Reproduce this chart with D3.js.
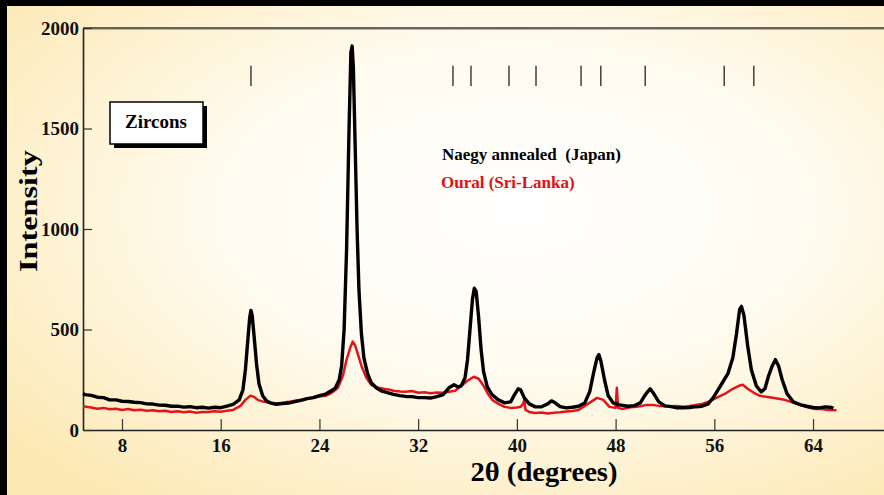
<!DOCTYPE html>
<html><head><meta charset="utf-8">
<script src="https://cdn.jsdelivr.net/npm/d3@7"></script>
<style>
html,body{margin:0;padding:0;background:#000;}
svg{display:block;}
text{font-family:"Liberation Serif","Times New Roman",serif;font-weight:bold;}
</style></head><body>
<svg id="chart" width="884" height="495"></svg>
<script>
// ---- data ----
const xTicks = [8, 16, 24, 32, 40, 48, 56, 64];
const yTicks = [0, 500, 1000, 1500, 2000];
const refLines = [18.45, 34.82, 36.28, 39.36, 41.55, 45.2, 46.8, 50.4, 56.8, 59.2];
const seriesNames = ["Naegy annealed  (Japan)", "Oural (Sri-Lanka)"];

const naegyTheta = [4.85,5.0,5.5,6.0,6.5,7.0,7.5,8.0,8.5,9.0,9.5,10,10.5,11,11.5,12,12.5,13,13.5,14,14.5,15,15.5,16,16.5,17,17.5,17.8,18.0,18.2,18.35,18.45,18.55,18.7,18.9,19.1,19.4,19.7,20,20.5,21,21.5,22,22.5,23,23.5,24,24.5,25,25.3,25.6,25.8,26.0,26.2,26.4,26.55,26.65,26.75,26.9,27.05,27.2,27.4,27.6,27.9,28.2,28.6,29,29.5,30,30.5,31,31.5,32,32.5,33,33.5,34,34.5,34.9,35.2,35.5,35.8,36.0,36.2,36.4,36.55,36.7,36.9,37.1,37.3,37.6,38,38.5,39,39.5,39.8,40.1,40.3,40.6,41,41.5,42,42.5,42.8,43.1,43.5,44,44.5,45,45.5,45.9,46.2,46.5,46.65,46.8,47.1,47.4,47.8,48.3,49,49.5,50,50.4,50.8,51.1,51.5,52,52.5,53,53.5,54,54.5,55,55.5,55.9,56.3,56.7,57.1,57.5,57.8,58.05,58.2,58.4,58.7,59.0,59.4,59.8,60.1,60.4,60.7,60.95,61.2,61.5,61.9,62.4,63,63.5,64,64.5,65,65.5,65.65];
const naegyI = [182,176,172,163,161,150,150,143,142,138,136,130,129,124,123,118,119,114,116,111,113,109,113,111,119,128,150,200,300,450,560,595,570,470,330,230,170,145,135,128,131,134,141,147,156,161,171,179,196,210,250,320,500,900,1500,1880,1910,1800,1400,1000,700,480,360,280,235,210,195,186,177,171,167,166,161,161,159,166,175,210,225,215,220,260,350,500,650,705,690,560,400,290,215,175,150,135,140,175,205,200,160,130,115,116,130,145,135,116,110,113,118,135,190,280,360,375,345,250,170,135,125,118,121,135,175,205,180,140,120,116,110,111,112,116,118,130,160,200,240,280,360,480,600,615,570,420,300,220,190,205,270,320,350,320,250,180,140,125,118,112,110,115,112,108];

const ouralTheta = [4.85,5.5,6,6.5,7,7.5,8,8.5,9,9.5,10,10.5,11,11.5,12,12.5,13,13.5,14,14.5,15,15.5,16,16.5,17,17.6,18.0,18.4,18.7,19.0,19.5,20,20.5,21,21.5,22,22.5,23,23.5,24,24.5,25,25.5,25.9,26.2,26.5,26.7,26.9,27.1,27.4,27.8,28.2,28.7,29.2,29.6,30,30.5,31,31.5,32,32.5,33,33.5,34,34.5,35,35.5,36,36.5,36.9,37.3,37.7,38,38.5,39,39.5,40,40.3,40.5,40.6,40.7,41,41.5,42,42.5,43,43.5,44,44.5,45,45.5,46,46.5,47,47.5,48.0,48.1,48.2,48.5,49,49.5,50,50.5,51,51.5,52,52.5,53,53.5,54,54.5,55,55.5,56,56.5,57,57.5,58,58.3,58.7,59.2,59.7,60.2,60.7,61.2,61.7,62.2,62.7,63.2,63.7,64.2,64.7,65.2,65.9];
const ouralI = [118,112,106,110,103,106,100,104,98,101,96,98,93,96,90,93,88,92,86,90,89,93,91,96,100,120,150,170,165,150,140,135,132,136,140,146,150,156,160,166,170,185,210,270,350,410,440,420,380,320,260,225,212,205,202,195,192,190,194,185,188,183,187,185,190,195,220,245,265,255,220,175,150,130,115,110,112,115,130,150,100,90,85,87,82,86,88,92,95,100,120,140,160,150,115,110,210,110,105,110,115,118,125,125,120,118,118,120,116,120,125,130,140,155,170,185,205,220,225,205,185,170,165,160,155,150,140,130,120,110,105,105,100,98];

// ---- layout ----
const W = 884, H = 495;
const svg = d3.select("#chart");
const defs = svg.append("defs");
const grad = defs.append("radialGradient").attr("id","bg")
  .attr("cx","0.58").attr("cy","0.42").attr("r","0.75");
grad.append("stop").attr("offset","0%").attr("stop-color","#ffffff");
grad.append("stop").attr("offset","45%").attr("stop-color","#fffbf0");
grad.append("stop").attr("offset","100%").attr("stop-color","#fce8b2");

svg.append("rect").attr("width",W).attr("height",H).attr("fill","#000");
svg.append("rect").attr("x",7).attr("y",6).attr("width",W-7).attr("height",H-6).attr("fill","url(#bg)");

const x = d3.scaleLinear().domain([4.84, 69.75]).range([83, 884]);
const y = d3.scaleLinear().domain([0, 2000]).range([430, 28]);

const g = svg.append("g");

// frame lines (top)
g.append("line").attr("x1",83).attr("x2",W).attr("y1",y(2000)+1.5).attr("y2",y(2000)+1.5)
  .attr("stroke","#b8b0a0").attr("stroke-width",1);
g.append("line").attr("x1",83).attr("x2",W).attr("y1",y(2000)).attr("y2",y(2000))
  .attr("stroke","#333").attr("stroke-width",1.5);

// x axis
const xAxis = g.append("g").attr("transform",`translate(0,${y(0)})`)
  .call(d3.axisBottom(x).tickValues(xTicks).tickSize(-11).tickPadding(9).tickSizeOuter(0)
    .tickFormat(d3.format("d")));
xAxis.select(".domain").attr("stroke","#222").attr("stroke-width",1.6);
xAxis.selectAll(".tick line").attr("stroke","#333").attr("stroke-width",1.2);
xAxis.selectAll(".tick text").attr("font-size",19).attr("fill","#111")
  .attr("font-family","Liberation Serif, serif").attr("font-weight","bold");

// y axis
const yAxis = g.append("g").attr("transform",`translate(${x.range()[0]},0)`)
  .call(d3.axisLeft(y).tickValues(yTicks).tickSize(-9).tickPadding(4).tickSizeOuter(0)
    .tickFormat(d3.format("d")));
yAxis.select(".domain").attr("stroke","#222").attr("stroke-width",1.6);
yAxis.selectAll(".tick line").attr("stroke","#333").attr("stroke-width",1.2);
yAxis.selectAll(".tick text").attr("font-size",19).attr("fill","#111")
  .attr("font-family","Liberation Serif, serif").attr("font-weight","bold");

// reference tick marks
g.selectAll("line.ref").data(refLines).enter().append("line").attr("class","ref")
  .attr("x1",d=>x(d)).attr("x2",d=>x(d)).attr("y1",y(1812)).attr("y2",y(1712))
  .attr("stroke","#333").attr("stroke-width",1.4);

// series
const line = d3.line().x(d=>x(d[0])).y(d=>y(d[1]));
const ouralData = ouralTheta.map((t,i)=>[t, ouralI[i]]);
const naegyData = naegyTheta.map((t,i)=>[t, naegyI[i]]);
g.append("path").datum(ouralData).attr("d",line).attr("fill","none")
  .attr("stroke","#e3141a").attr("stroke-width",2.5).attr("stroke-linejoin","round");
g.append("path").datum(naegyData).attr("d",line).attr("fill","none")
  .attr("stroke","#000").attr("stroke-width",3.4).attr("stroke-linejoin","round");

// Zircons box
g.append("rect").attr("x",114).attr("y",106).attr("width",93).attr("height",42).attr("fill","#000");
g.append("rect").attr("x",110).attr("y",102).attr("width",93).attr("height",42)
  .attr("fill","#fff").attr("stroke","#000").attr("stroke-width",1.5);
g.append("text").attr("x",156).attr("y",128).attr("text-anchor","middle")
  .attr("font-size",19).attr("fill","#000").text("Zircons");

// legend texts
g.append("text").attr("x",442).attr("y",160).attr("font-size",17).attr("fill","#000")
  .attr("xml:space","preserve").style("white-space","pre").text(seriesNames[0]);
g.append("text").attr("x",441).attr("y",188).attr("font-size",17).attr("fill","#e01010")
  .text(seriesNames[1]);

// axis titles
g.append("text").attr("x",544).attr("y",481).attr("text-anchor","middle")
  .attr("font-size",27).attr("textLength",147).attr("lengthAdjust","spacingAndGlyphs")
  .attr("fill","#000").text("2θ (degrees)");
g.append("text").attr("transform","translate(37,211) rotate(-90)").attr("text-anchor","middle")
  .attr("font-size",26).attr("textLength",122).attr("lengthAdjust","spacingAndGlyphs")
  .attr("fill","#000").text("Intensity");
</script>
</body></html>
